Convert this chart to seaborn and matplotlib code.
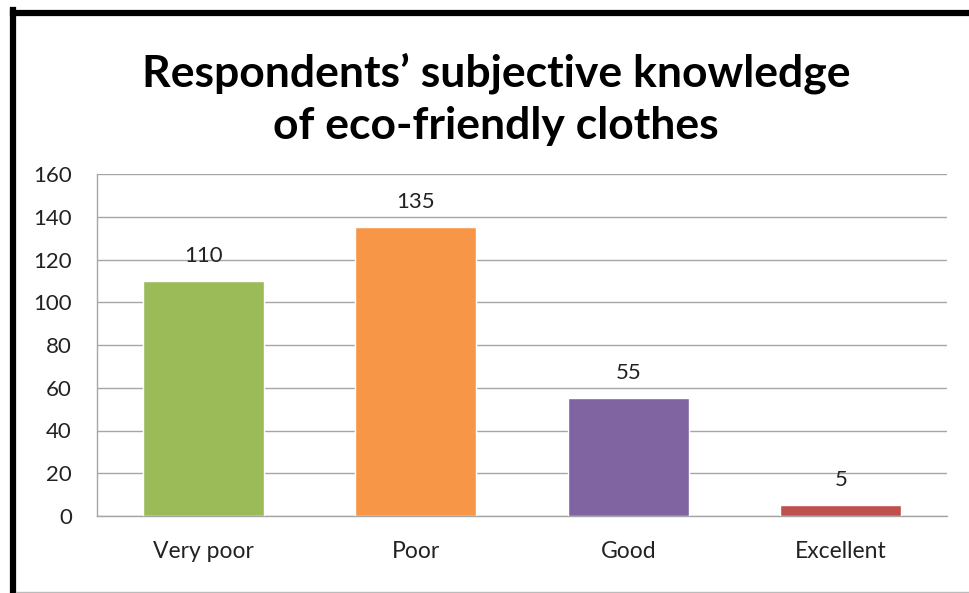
import matplotlib
matplotlib.use("Agg")
import matplotlib.pyplot as plt
from matplotlib.lines import Line2D
import seaborn as sns
import pandas as pd

categories = ["Very poor", "Poor", "Good", "Excellent"]
counts = [110, 135, 55, 5]
bar_colors = ["#9BBB59", "#F79646", "#8064A2", "#C0504D"]
y_ticks = [0, 20, 40, 60, 80, 100, 120, 140, 160]
title = "Respondents\u2019 subjective knowledge\nof eco-friendly clothes"

sns.set_style("white")
plt.rcParams["font.family"] = ["Lato", "DejaVu Sans"]

df = pd.DataFrame({"category": categories, "count": counts})

W, H = 969, 593
fig = plt.figure(figsize=(W / 100, H / 100), dpi=100)
ax = fig.add_axes([97 / W, 1 - 516 / H, (947 - 97) / W, (516 - 174) / H])

sns.barplot(data=df, x="category", y="count", hue="category",
            palette=bar_colors, width=0.57, legend=False, ax=ax,
            saturation=1, zorder=3)

ax.set_ylim(0, 160)
ax.set_yticks(y_ticks)
ax.set_xlim(-0.5, len(categories) - 0.5)
ax.yaxis.grid(True, color="#A6A6A6", linewidth=1.0, zorder=0)
ax.set_axisbelow(True)
for side in ["top", "right"]:
    ax.spines[side].set_visible(False)
for side in ["left", "bottom"]:
    ax.spines[side].set_color("#A6A6A6")
    ax.spines[side].set_linewidth(1.0)
ax.tick_params(axis="both", length=0, labelsize=16, colors="#222222")
ax.tick_params(axis="y", pad=18)
ax.tick_params(axis="x", pad=18, labelsize=16.5)
ax.set_xlabel("")
ax.set_ylabel("")

for i, v in enumerate(counts):
    ax.annotate(str(v), (i, v), xytext=(0, 11), textcoords="offset points",
                ha="center", va="bottom", fontsize=16, color="#222222")

fig.text(496 / W, 1 - 99 / H, title, ha="center", va="center",
         fontsize=32, fontweight="bold", color="black", linespacing=1.36)

# chart frame
fig.add_artist(Line2D([13 / W, 13 / W], [0, 1 - 10 / H], color="black",
                      linewidth=4.5, transform=fig.transFigure,
                      solid_capstyle="projecting"))
fig.add_artist(Line2D([13 / W, 1], [1 - 13 / H, 1 - 13 / H], color="black",
                      linewidth=4.5, transform=fig.transFigure,
                      solid_capstyle="projecting"))
fig.add_artist(Line2D([16 / W, 1], [1.5 / H, 1.5 / H], color="#BBBBBB",
                      linewidth=1.0, transform=fig.transFigure))

fig.savefig("out.png", dpi=100, facecolor="white")
